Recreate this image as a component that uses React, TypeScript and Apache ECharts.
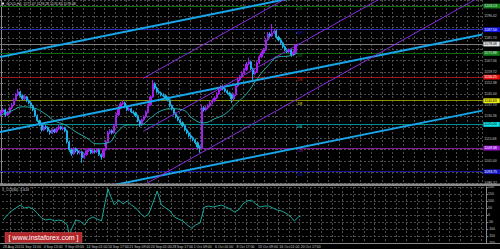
import React, { useEffect, useRef } from 'react';
import * as echarts from 'echarts';

const chartTitle = 'GOLD,H4  1177.47 1178.28 1176.83 1178.08';
const indicatorTitle = '3_CCI(30) -5.613';
const watermark = '[ www.instaforex.com ]';

const categoryCount = 226;
const xTickLabels = [
  '28 Aug 2015', '1 Sep 13:00', '4 Sep 13:00', '9 Sep 09:00', '14 Sep 01:00',
  '16 Sep 17:00', '21 Sep 09:00', '24 Sep 01:00', '28 Sep 17:00', '1 Oct 09:00',
  '6 Oct 01:00', '8 Oct 17:00', '13 Oct 09:00', '16 Oct 01:00', '20 Oct 17:00',
];
const xTickIndex = [0, 9, 19, 29, 39, 49, 59, 69, 79, 89, 99, 109, 119, 129, 139];

// [open, close, low, high]
const candles: number[][] = [
  [1131.8, 1133.3, 1130.6, 1134.5], [1133.3, 1134.6, 1132.4, 1135.8], [1134.6, 1131.3, 1130.2, 1135.4],
  [1131.3, 1132.6, 1130.5, 1133.9], [1132.6, 1135.9, 1131.8, 1136.8], [1135.9, 1137.9, 1135.0, 1139.1],
  [1137.9, 1141.2, 1137.2, 1142.3], [1141.2, 1144.5, 1140.4, 1145.6], [1144.5, 1146.5, 1143.6, 1148.5],
  [1146.5, 1143.9, 1142.8, 1147.3], [1143.9, 1141.9, 1141.0, 1144.8], [1141.9, 1143.2, 1141.1, 1144.3],
  [1143.2, 1140.6, 1139.7, 1143.9], [1140.6, 1139.2, 1138.3, 1141.5], [1139.2, 1137.3, 1136.4, 1140.1],
  [1137.3, 1134.6, 1133.7, 1138.0], [1134.6, 1130.7, 1129.8, 1135.3], [1130.7, 1127.4, 1126.5, 1131.6],
  [1127.4, 1124.7, 1123.8, 1128.2], [1124.7, 1121.4, 1120.3, 1125.4], [1121.4, 1123.4, 1120.6, 1124.5],
  [1123.4, 1122.8, 1121.7, 1124.6], [1122.8, 1120.8, 1119.9, 1123.7], [1120.8, 1119.5, 1118.2, 1121.6],
  [1119.5, 1121.4, 1118.7, 1122.3], [1121.4, 1120.1, 1119.2, 1122.2], [1120.1, 1122.1, 1119.3, 1123.0],
  [1122.1, 1123.4, 1121.3, 1124.6], [1123.4, 1122.1, 1121.2, 1124.2], [1122.1, 1122.8, 1121.0, 1123.7],
  [1122.8, 1120.8, 1119.8, 1123.5], [1120.8, 1113.5, 1112.4, 1121.6], [1113.5, 1108.3, 1106.9, 1114.3],
  [1108.3, 1105.6, 1104.2, 1109.2], [1105.6, 1108.9, 1104.8, 1110.0], [1108.9, 1107.6, 1106.5, 1109.8],
  [1107.6, 1106.3, 1105.1, 1108.5], [1106.3, 1106.9, 1105.2, 1108.0], [1106.9, 1103.0, 1099.7, 1107.6],
  [1103.0, 1105.0, 1102.1, 1106.1], [1105.0, 1107.6, 1104.2, 1108.5], [1107.6, 1108.3, 1106.7, 1109.4],
  [1108.3, 1106.3, 1105.4, 1109.1], [1106.3, 1107.6, 1105.5, 1108.6], [1107.6, 1106.9, 1106.0, 1108.5],
  [1106.9, 1108.3, 1106.0, 1109.2], [1108.3, 1105.0, 1104.1, 1109.0], [1105.0, 1103.6, 1101.7, 1105.8],
  [1103.6, 1108.3, 1102.9, 1109.2], [1108.3, 1113.5, 1107.6, 1114.6], [1113.5, 1119.5, 1112.8, 1120.6],
  [1119.5, 1120.8, 1118.6, 1122.0], [1120.8, 1119.5, 1118.4, 1121.7], [1119.5, 1124.1, 1118.8, 1125.2],
  [1124.1, 1131.3, 1123.4, 1132.5], [1131.3, 1135.9, 1130.5, 1137.1], [1135.9, 1138.6, 1135.0, 1139.8],
  [1138.6, 1139.2, 1137.7, 1141.0], [1139.2, 1136.6, 1135.7, 1140.0], [1136.6, 1134.6, 1133.7, 1137.5],
  [1134.6, 1135.3, 1133.8, 1136.4], [1135.3, 1133.3, 1132.4, 1136.1], [1133.3, 1132.6, 1131.7, 1134.2],
  [1132.6, 1130.7, 1129.8, 1133.4], [1130.7, 1127.4, 1126.4, 1131.5], [1127.4, 1124.7, 1123.4, 1128.2],
  [1124.7, 1128.0, 1124.0, 1128.9], [1128.0, 1130.0, 1127.2, 1131.0], [1130.0, 1133.3, 1129.2, 1134.2],
  [1133.3, 1137.9, 1132.6, 1139.0], [1137.9, 1143.2, 1137.1, 1144.3], [1143.2, 1151.8, 1142.5, 1154.4],
  [1151.8, 1149.1, 1148.0, 1152.8], [1149.1, 1146.5, 1145.5, 1150.0], [1146.5, 1145.8, 1144.8, 1147.6],
  [1145.8, 1144.5, 1143.5, 1146.7], [1144.5, 1143.9, 1142.9, 1145.6], [1143.9, 1142.5, 1141.5, 1144.8],
  [1142.5, 1141.2, 1140.2, 1143.4], [1141.2, 1137.3, 1136.3, 1142.0], [1137.3, 1135.3, 1134.3, 1138.2],
  [1135.3, 1132.0, 1131.0, 1136.1], [1132.0, 1130.0, 1129.0, 1132.9], [1130.0, 1128.0, 1127.0, 1130.8],
  [1128.0, 1126.1, 1125.1, 1128.9], [1126.1, 1124.1, 1123.1, 1127.0], [1124.1, 1121.4, 1120.4, 1125.0],
  [1121.4, 1119.5, 1118.5, 1122.3], [1119.5, 1117.5, 1116.5, 1120.4], [1117.5, 1116.2, 1115.1, 1118.6],
  [1116.2, 1114.8, 1113.8, 1117.1], [1114.8, 1112.9, 1111.8, 1115.7], [1112.9, 1110.2, 1109.1, 1113.8],
  [1110.2, 1109.6, 1106.3, 1111.2], [1109.6, 1135.9, 1108.9, 1138.2], [1135.9, 1134.6, 1133.4, 1137.0],
  [1134.6, 1135.9, 1133.6, 1137.1], [1135.9, 1137.3, 1135.0, 1138.4], [1137.3, 1139.2, 1136.4, 1140.3],
  [1139.2, 1140.6, 1138.3, 1141.7], [1140.6, 1142.5, 1139.7, 1143.6], [1142.5, 1145.2, 1141.7, 1146.3],
  [1145.2, 1147.8, 1144.4, 1148.9], [1147.8, 1149.8, 1147.0, 1151.0], [1149.8, 1148.5, 1147.5, 1150.7],
  [1148.5, 1147.1, 1146.1, 1149.4], [1147.1, 1145.8, 1144.8, 1148.0], [1145.8, 1144.5, 1143.5, 1146.7],
  [1144.5, 1141.9, 1139.2, 1145.4], [1141.9, 1144.5, 1141.0, 1145.6], [1144.5, 1150.4, 1143.8, 1151.5],
  [1150.4, 1154.4, 1149.6, 1155.5], [1154.4, 1156.4, 1153.6, 1157.5], [1156.4, 1159.0, 1155.6, 1160.1],
  [1159.0, 1161.0, 1158.2, 1162.1], [1161.0, 1164.9, 1160.2, 1166.2], [1164.9, 1166.3, 1164.0, 1169.0],
  [1166.3, 1161.7, 1160.7, 1167.2], [1161.7, 1158.4, 1154.4, 1162.5], [1158.4, 1159.7, 1157.4, 1160.8],
  [1159.7, 1165.6, 1159.0, 1166.7], [1165.6, 1169.6, 1164.8, 1170.7], [1169.6, 1172.2, 1168.8, 1173.3],
  [1172.2, 1174.2, 1171.3, 1175.4], [1174.2, 1180.8, 1173.5, 1182.0], [1180.8, 1184.7, 1180.0, 1186.0],
  [1184.7, 1183.4, 1182.3, 1185.8], [1183.4, 1185.4, 1182.6, 1191.3], [1185.4, 1186.7, 1184.5, 1188.0],
  [1186.7, 1182.7, 1181.6, 1187.5], [1182.7, 1180.8, 1179.8, 1183.6], [1180.8, 1178.8, 1177.8, 1181.7],
  [1178.8, 1176.2, 1175.2, 1179.7], [1176.2, 1174.2, 1173.2, 1177.1], [1174.2, 1172.9, 1171.9, 1175.1],
  [1172.9, 1174.2, 1172.0, 1175.2], [1174.2, 1170.9, 1169.6, 1175.0], [1170.9, 1172.9, 1170.0, 1173.9],
  [1172.9, 1177.4, 1172.1, 1177.9], [1177.47, 1178.08, 1176.83, 1178.28],
];

// moving average readings: [bar index, value]
const maReadings: number[][] = [
  [0, 1131.3], [5, 1134.0], [10, 1136.6], [15, 1135.9], [20, 1132.6], [25, 1127.4], [30, 1124.7],
  [35, 1120.1], [40, 1116.2], [45, 1112.2], [50, 1112.8], [55, 1120.8], [60, 1124.7], [65, 1124.7],
  [70, 1129.3], [75, 1134.0], [80, 1135.3], [85, 1134.6], [90, 1128.7], [95, 1126.0], [100, 1128.7],
  [105, 1132.0], [110, 1138.6], [115, 1145.2], [120, 1155.1], [125, 1163.6], [130, 1169.6],
  [135, 1170.2], [139, 1172.2],
];

// CCI readings: [bar index, value]
const cciReadings: number[][] = [
  [0, -36], [2, 0], [4, 29], [6, 50], [8, 71], [10, 50], [12, 57], [14, 43], [16, 14], [18, -21],
  [20, -36], [22, -29], [24, -43], [26, -36], [28, -43], [30, -71], [31, -150], [32, -100], [34, -36],
  [36, -43], [38, -71], [40, -29], [42, -14], [44, -29], [46, -43], [48, 114], [49, 186], [50, 143],
  [52, 71], [54, 107], [56, 79], [58, 100], [60, 71], [62, 50], [64, 14], [66, -14], [68, 7], [70, 86],
  [72, 171], [74, 71], [76, 50], [78, 29], [80, -14], [82, -29], [84, -43], [86, -71], [88, -93],
  [90, -71], [92, -57], [94, 57], [96, 64], [98, 57], [100, 64], [102, 71], [104, 57], [106, 43],
  [108, 21], [110, 36], [112, 79], [114, 100], [116, 107], [118, 79], [120, 57], [122, 64], [124, 64],
  [126, 50], [128, 36], [130, 29], [132, 14], [134, -7], [136, -43], [138, -14], [139, -7],
];

const levelValues = [1203.13, 1187.5, 1171.88, 1156.25, 1140.63, 1125.0, 1109.38, 1093.75];
const levelNames = ['5/8', '4/8', '3/8', '2/8', '1/8', '0/8', '-1/8', '-2/8'];
const levelLineColors = ['#0e6a0e', '#2a2ab8', '#0e6a0e', '#a01414', '#8e8e00', '#008e8e', '#86189c', '#14149a'];
const levelBoxColors = ['#10801a', '#1414f0', '#10801a', '#e81414', '#eeee10', '#10e0e0', '#9a14d4', '#1414c0'];
const levelTextColors = ['#e8e8e8', '#ffffff', '#e8e8e8', '#ffffff', '#000000', '#000000', '#ffffff', '#ffffff'];
const currentPrice = 1178.08;

// trend lines: [[barIndex, price], [barIndex, price]]
const blueTrendLines = [
  [[-0.5, 1169.5], [225.5, 1233.8]],
  [[-0.5, 1120.0], [225.5, 1184.3]],
  [[-0.5, 1069.8], [225.5, 1134.1]],
];
const purpleTrendLines = [
  [[66.6, 1155.4], [225.5, 1280.7]],
  [[66.6, 1120.4], [225.5, 1245.8]],
  [[66.6, 1084.8], [225.5, 1210.1]],
];

const FONT = 'Liberation Sans, Arial, sans-serif';

export default function App() {
  const ref = useRef<HTMLDivElement>(null);

  useEffect(() => {
    if (!ref.current) return;
    const chart = echarts.init(ref.current, undefined, { renderer: 'svg' });

    const categories = Array.from({ length: categoryCount }, (_, i) => {
      const k = xTickIndex.indexOf(i);
      return k >= 0 ? xTickLabels[k] : '';
    });
    const maData: (number | null)[] = candles.map(() => null);
    maReadings.forEach(([i, v]) => { maData[i] = v; });
    const cciData: (number | null)[] = candles.map(() => null);
    cciReadings.forEach(([i, v]) => { cciData[i] = v; });

    const boxedValues = [...levelValues, currentPrice];
    const priceLabel = (v: number) =>
      boxedValues.some((b) => Math.abs(b - v) < 2.6) ? '' : v.toFixed(2);

    const gridSplit = {
      show: true,
      interval: (i: number) => i % 5 === 4,
      lineStyle: { color: '#4e4e4e', type: [2, 2], width: 1 },
    };

    const boxLabel = (text: string, bg: string, fg: string) => ({
      show: true,
      position: 'end',
      distance: 1,
      formatter: text,
      fontSize: 3.5,
      lineHeight: 4,
      fontFamily: FONT,
      color: fg,
      backgroundColor: bg,
      padding: [0.4, 3, 0.4, 1],
    });

    const levelMarkLines: any[] = levelValues.map((v, k) => ({
      yAxis: v,
      lineStyle: { color: levelLineColors[k], width: 1, type: 'solid' },
      label: boxLabel(v.toFixed(2), levelBoxColors[k], levelTextColors[k]),
    }));
    levelMarkLines.push({
      yAxis: currentPrice,
      lineStyle: { color: '#7c7c7c', width: 1, type: 'solid' },
      label: boxLabel(currentPrice.toFixed(2), '#e4e4e4', '#000000'),
    });

    const levelMarkPoints = levelValues.map((v, k) => ({
      coord: [139, v],
      symbol: 'circle',
      symbolSize: 1,
      itemStyle: { color: 'rgba(0,0,0,0)' },
      label: {
        show: true,
        position: 'inside',
        offset: [2, 3],
        formatter: levelNames[k],
        fontSize: 3.5,
        fontFamily: FONT,
        color: levelBoxColors[k],
      },
    }));

    const trendSeries = [
      ...blueTrendLines.map((pts) => ({
        type: 'line', xAxisIndex: 1, yAxisIndex: 0, data: pts, symbol: 'none', clip: true,
        lineStyle: { color: '#17a6ea', width: 2 }, silent: true, z: 4,
      })),
      ...purpleTrendLines.map((pts) => ({
        type: 'line', xAxisIndex: 1, yAxisIndex: 0, data: pts, symbol: 'none', clip: true,
        lineStyle: { color: '#8a2be2', width: 1 }, silent: true, z: 4,
      })),
    ];

    chart.setOption({
      animation: false,
      backgroundColor: '#000000',
      textStyle: { fontFamily: FONT },
      grid: [
        { left: 0, right: 14, top: 0, height: 183 },
        { left: 0, right: 14, top: 187, height: 56 },
      ],
      xAxis: [
        {
          type: 'category', gridIndex: 0, data: categories, boundaryGap: true,
          axisLine: { show: false }, axisTick: { show: false }, axisLabel: { show: false },
          splitLine: gridSplit,
        },
        { type: 'value', gridIndex: 0, min: -0.5, max: 225.5, show: false },
        {
          type: 'category', gridIndex: 1, data: categories, boundaryGap: true,
          axisLine: { show: false }, axisTick: { show: false },
          axisLabel: {
            show: true, interval: 0, hideOverlap: false,
            align: 'left', fontSize: 3.5, color: '#c8c8c8', margin: 2, fontFamily: FONT,
          },
          splitLine: gridSplit,
        },
      ],
      yAxis: [
        {
          type: 'value', gridIndex: 0, position: 'right', min: 1086.32, max: 1207.13, interval: 7.34,
          axisLine: { show: true, lineStyle: { color: '#8a8a8a', width: 1 } },
          axisTick: { show: true, length: 2, lineStyle: { color: '#8a8a8a' } },
          axisLabel: {
            fontSize: 3.5, color: '#c8c8c8', margin: 2, fontFamily: FONT,
            formatter: priceLabel, showMaxLabel: false,
          },
          splitLine: { show: true, lineStyle: { color: '#4e4e4e', type: [2, 2], width: 1 } },
        },
        {
          type: 'value', gridIndex: 1, position: 'right', min: -200, max: 200, interval: 50,
          axisLine: { show: true, lineStyle: { color: '#8a8a8a', width: 1 } },
          axisTick: { show: true, length: 2, lineStyle: { color: '#8a8a8a' } },
          axisLabel: {
            fontSize: 3.5, color: '#c8c8c8', margin: 2, fontFamily: FONT,
            formatter: (v: number) => String(v),
          },
          splitLine: { show: true, lineStyle: { color: '#4e4e4e', type: [2, 2], width: 1 } },
        },
      ],
      series: [
        {
          type: 'candlestick', xAxisIndex: 0, yAxisIndex: 0, data: candles, barWidth: 1.7,
          itemStyle: {
            color: '#a020f0', color0: '#22d67f', borderColor: '#a020f0', borderColor0: '#19b0f0', borderWidth: 1,
          },
          markLine: { silent: true, symbol: 'none', data: levelMarkLines, z: 2 },
          markPoint: { silent: true, data: levelMarkPoints },
          z: 3,
        },
        {
          type: 'line', xAxisIndex: 0, yAxisIndex: 0, data: maData, connectNulls: true, smooth: true,
          symbol: 'none', lineStyle: { color: '#20b2aa', width: 1 }, silent: true, z: 5,
        },
        ...trendSeries,
        {
          type: 'line', xAxisIndex: 2, yAxisIndex: 1, data: cciData, connectNulls: true,
          symbol: 'none', lineStyle: { color: '#1aa89d', width: 1 }, silent: true,
        },
      ],
      graphic: [
        { type: 'rect', shape: { x: 0, y: 183.5, width: 500, height: 2.5 }, style: { fill: '#8a8a8a' }, z: 100 },
        { type: 'rect', shape: { x: 0, y: 243, width: 500, height: 1 }, style: { fill: '#8a8a8a' }, z: 100 },
        { type: 'rect', shape: { x: 2, y: 2.5, width: 2, height: 2 }, style: { fill: '#dddddd' }, z: 100 },
        {
          type: 'text', x: 6, y: 1.5, z: 100,
          style: { text: chartTitle, fill: '#d8d8d8', fontSize: 3.5, fontFamily: FONT },
        },
        {
          type: 'text', x: 2, y: 188, z: 100,
          style: { text: indicatorTitle, fill: '#d8d8d8', fontSize: 3.5, fontFamily: FONT },
        },
        {
          type: 'rect', shape: { x: 5, y: 232.5, width: 77, height: 10 },
          style: { fill: '#b3262a', stroke: '#d85a5a', lineWidth: 0.5 }, z: 100,
        },
        {
          type: 'text', x: 43.5, y: 237.5, z: 101,
          style: {
            text: watermark, fill: '#ffffff', fontSize: 7, fontFamily: FONT,
            textAlign: 'center', textVerticalAlign: 'middle', align: 'center', verticalAlign: 'middle',
          },
        },
      ],
    });

    return () => chart.dispose();
  }, []);

  return (
    <div
      ref={ref}
      style={{ position: 'fixed', left: 0, top: 0, width: 500, height: 249, background: '#000' }}
    />
  );
}
